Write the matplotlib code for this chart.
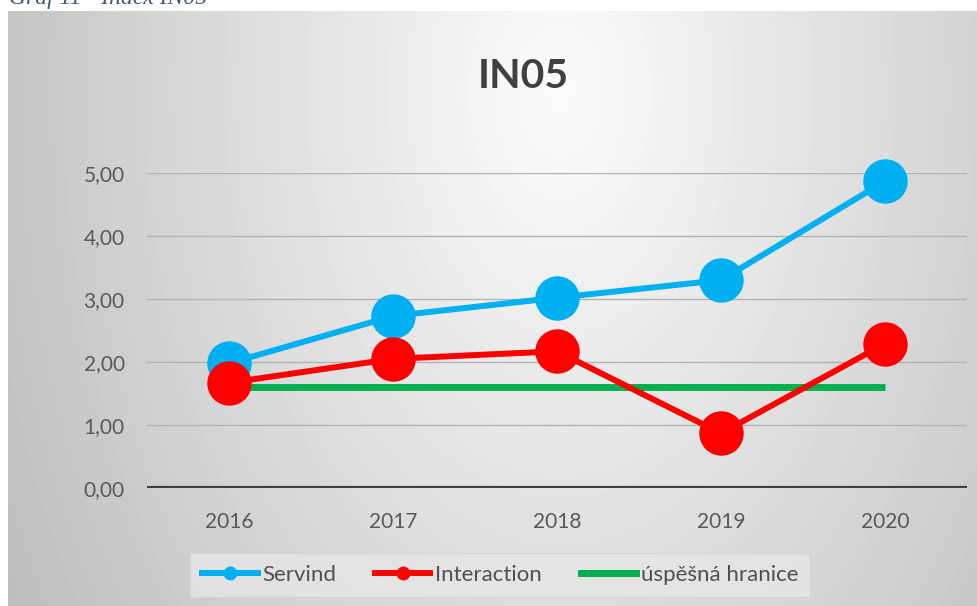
import numpy as np
import matplotlib.pyplot as plt
from matplotlib.lines import Line2D

years = ["2016", "2017", "2018", "2019", "2020"]
servind = [1.98, 2.73, 3.02, 3.30, 4.87]
interaction = [1.67, 2.05, 2.17, 0.87, 2.29]
hranice = [1.60, 1.60, 1.60, 1.60, 1.60]
y_ticks = [0, 1, 2, 3, 4, 5]
y_labels = ["0,00", "1,00", "2,00", "3,00", "4,00", "5,00"]

W, H = 977, 606
fig = plt.figure(figsize=(W / 100, H / 100), dpi=100)
fig.patch.set_facecolor("white")

# chart area background, light in the middle and grey towards the edges
bg = fig.add_axes([8 / W, 0, 1 - 8 / W, (H - 11) / H])
bg.set_axis_off()
px, py = np.meshgrid(np.arange(8, W), np.arange(11, H))
d = np.sqrt(((px - 560) / 560.0) ** 2 + ((py - 90) / 900.0) ** 2)
shade = np.clip(252 - 55 * d, 180, 252) / 255.0
bg.imshow(shade, cmap="gray", vmin=0, vmax=1, aspect="auto",
          extent=[0, 1, 0, 1], interpolation="bilinear")
bg.set_xlim(0, 1)
bg.set_ylim(0, 1)

ax = fig.add_axes([147 / W, (H - 488) / H, 820 / W, (488 - 173) / H])
ax.patch.set_alpha(0)
x = np.arange(len(years))

ax.plot(x, hranice, color="#00B050", lw=5, solid_capstyle="butt", zorder=3)
ax.plot(x, servind, color="#00B0F0", lw=4.3, marker="o", ms=32,
        markeredgewidth=0, clip_on=False, zorder=4)
ax.plot(x, interaction, color="#FF0000", lw=4.3, marker="o", ms=32,
        markeredgewidth=0, clip_on=False, zorder=5)

ax.set_xlim(-0.5, len(years) - 0.5)
ax.set_ylim(0, 5)
ax.set_yticks(y_ticks)
ax.set_yticklabels(y_labels)
ax.set_xticks(x)
ax.set_xticklabels(years)
ax.tick_params(axis="both", length=0, labelsize=15, labelcolor="#595959")
ax.tick_params(axis="y", pad=16)
ax.tick_params(axis="x", pad=17)
for lab in ax.get_xticklabels() + ax.get_yticklabels():
    lab.set_fontfamily("Lato")
for s in ax.spines.values():
    s.set_visible(False)
for t in y_ticks[1:]:
    ax.axhline(t, color="#b3b3b3", lw=1, zorder=1)
ax.axhline(0, color="#404040", lw=3, zorder=2)

fig.text(523 / W, 1 - 77 / H, "IN05", ha="center", va="center",
         fontsize=29.5, fontweight="bold", family="Lato", color="#404040")

# caption above the chart, cut by the top edge as in the source
fig.text(9 / W, 1 - 4 / H, "Graf 11 - Index IN05", ha="left", va="baseline",
         fontsize=17, style="italic", family="Liberation Serif", color="#44546A")

handles = [
    Line2D([], [], color="#00B0F0", lw=4.3, marker="o", ms=10, markeredgewidth=0),
    Line2D([], [], color="#FF0000", lw=4.3, marker="o", ms=10, markeredgewidth=0),
    Line2D([], [], color="#00B050", lw=5),
]
leg = fig.legend(handles, ["Servind", "Interaction", "úspěšná hranice"],
                 loc="center", bbox_to_anchor=(500 / W, 1 - 575 / H), ncol=3,
                 prop={"family": "Lato", "size": 16}, frameon=True,
                 fancybox=False, handlelength=2.5, handletextpad=0.2,
                 columnspacing=1.75, borderpad=0.55, borderaxespad=0)
leg.get_frame().set_facecolor("#e6e6e6")
leg.get_frame().set_edgecolor("#d4d4d4")
for t in leg.get_texts():
    t.set_color("#505050")

fig.savefig("out.png", dpi=100)
